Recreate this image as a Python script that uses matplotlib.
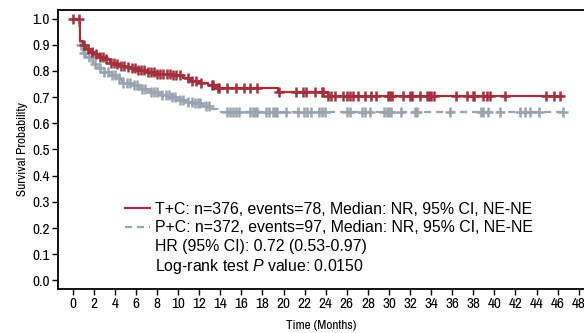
import matplotlib
matplotlib.use("Agg")
import matplotlib.pyplot as plt
from matplotlib.lines import Line2D
from matplotlib import font_manager as fm
import numpy as np

# ---------------- data ----------------
tc_times = [0.0, 0.7, 1.0, 1.3, 1.6, 2.0, 2.5, 3.0, 3.5, 4.0, 4.5, 5.0, 5.5, 6.0,
            7.0, 8.0, 9.5, 10.5, 11.2, 12.0, 12.8, 13.8, 19.5, 24.2]
tc_surv = [1.0, 0.915, 0.90, 0.885, 0.874, 0.865, 0.855, 0.845, 0.832, 0.825, 0.82,
           0.815, 0.81, 0.805, 0.798, 0.79, 0.785, 0.775, 0.763, 0.753, 0.745,
           0.734, 0.721, 0.706]
tc_end = 46.4
tc_censor = [0.0, 0.6, 1.1, 1.4, 1.8, 2.2, 2.6, 2.9, 3.2, 3.6, 3.9, 4.2, 4.6, 4.9,
             5.2, 5.6, 5.9, 6.2, 6.5, 6.8, 7.1, 7.4, 7.7, 8.0, 8.3, 8.6, 8.9, 9.2,
             9.5, 9.8, 10.15, 10.9, 11.3, 11.7, 12.2, 13.2, 13.3, 13.8, 13.9, 14.6,
             15.5, 16.2, 16.8, 17.5, 19.6, 21.2, 21.8, 22.1, 23.0, 23.6, 23.7,
             24.2, 24.5, 24.9, 25.6, 26.0, 26.3, 26.6, 27.1, 27.7, 28.3, 28.8,
             29.9, 30.1, 30.3, 31.3, 32.0, 32.2, 32.9, 33.6, 33.8, 34.0, 34.3,
             36.4, 37.4, 38.0, 38.1, 38.9, 39.3, 39.6, 41.0, 44.9, 45.7, 46.2]

pc_times = [0.0, 0.5, 0.7, 1.0, 1.3, 1.9, 2.4, 2.9, 3.5, 4.1, 4.7, 5.5, 6.4, 7.2,
            8.3, 9.2, 9.8, 10.8, 11.4, 12.4, 13.0, 13.8]
pc_surv = [1.0, 0.97, 0.90, 0.87, 0.855, 0.825, 0.81, 0.798, 0.785, 0.772, 0.755,
           0.745, 0.73, 0.72, 0.709, 0.70, 0.69, 0.683, 0.677, 0.665, 0.655, 0.643]
pc_end = 46.8
pc_censor = [0.8, 1.1, 1.5, 1.8, 2.1, 2.6, 3.0, 3.3, 3.7, 4.0, 4.4, 4.8, 5.1, 5.4,
             5.8, 6.1, 6.6, 6.9, 7.4, 7.7, 8.0, 8.5, 8.8, 9.1, 9.4, 9.7, 10.15,
             10.5, 10.9, 11.3, 11.6, 11.9, 12.1, 12.6, 12.9, 14.6, 14.9, 15.2,
             15.5, 15.8, 16.8, 17.1, 17.3, 17.5, 18.3, 18.6, 19.0, 19.2, 19.4,
             20.2, 21.4, 21.9, 22.2, 22.6, 23.4, 23.6, 23.9, 26.0, 26.3, 27.4,
             27.7, 28.2, 29.5, 29.8, 30.0, 30.2, 31.1, 32.5, 32.7, 35.8, 38.7,
             38.9, 39.4, 40.5, 42.4, 42.9, 43.4, 44.2, 46.5]

x_ticks = list(range(0, 49, 2))
y_ticks = [0.0, 0.1, 0.2, 0.3, 0.4, 0.5, 0.6, 0.7, 0.8, 0.9, 1.0]

tc_label = "T+C: n=376, events=78, Median: NR, 95% CI, NE-NE"
pc_label = "P+C: n=372, events=97, Median: NR, 95% CI, NE-NE"
hr_label = "HR (95% CI): 0.72 (0.53-0.97)"
p_label = "Log-rank test $P$ value: 0.0150"

RED = "#a3303a"
GREY = "#98a4b0"

# ---------------- fonts ----------------
names = {f.name for f in fm.fontManager.ttflist}
narrow = "Archivo Narrow" if "Archivo Narrow" in names else "Liberation Sans"
plt.rcParams["font.family"] = ["Liberation Sans", "DejaVu Sans"]
plt.rcParams["mathtext.fontset"] = "custom"
plt.rcParams["mathtext.it"] = "Liberation Sans:italic"
plt.rcParams["mathtext.rm"] = "Liberation Sans"

fig = plt.figure(figsize=(5.84, 3.33), dpi=100)
ax = fig.add_axes([58 / 584, 1 - 289 / 333, (584 - 58) / 584, (289 - 10) / 333])


def km_xy(times, surv, end):
    xs = list(times) + [end]
    ys = list(surv) + [surv[-1]]
    return xs, ys


def surv_at(times, surv, t):
    idx = np.searchsorted(np.asarray(times), t, side="right") - 1
    return np.asarray(surv)[np.clip(idx, 0, None)]


xs, ys = km_xy(pc_times, pc_surv, pc_end)
ax.step(xs, ys, where="post", color=GREY, lw=1.6, linestyle=(0, (3.2, 2.2)))
ax.plot(pc_censor, surv_at(pc_times, pc_surv, pc_censor), linestyle="none",
        marker="+", ms=7, mew=1.8, color=GREY)

xs, ys = km_xy(tc_times, tc_surv, tc_end)
ax.step(xs, ys, where="post", color=RED, lw=1.6)
ax.plot(tc_censor, surv_at(tc_times, tc_surv, tc_censor), linestyle="none",
        marker="+", ms=7, mew=1.8, color=RED)

ax.set_xlim(-1.4, 48.5)
ax.set_ylim(-0.033, 1.033)
ax.set_xticks(x_ticks)
ax.set_yticks(y_ticks)
ax.set_yticklabels([f"{v:.1f}" for v in y_ticks])
ax.tick_params(direction="out", length=4, width=1, labelsize=11, pad=2)
for lab in ax.get_xticklabels() + ax.get_yticklabels():
    lab.set_fontfamily(narrow)
ax.spines["right"].set_visible(False)
for s in ["left", "bottom", "top"]:
    ax.spines[s].set_linewidth(1.3)

ax.set_xlabel("Time (Months)", fontfamily=narrow, fontsize=9.5, labelpad=6)
ax.set_ylabel("Survival Probability", fontfamily=narrow, fontsize=9.5, labelpad=3)

handles = [
    Line2D([], [], color=RED, lw=1.6),
    Line2D([], [], color=GREY, lw=1.6, linestyle=(0, (3.2, 2.2))),
    Line2D([], [], color="none"),
    Line2D([], [], color="none"),
]
leg = ax.legend(handles, [tc_label, pc_label, hr_label, p_label],
                loc="upper left", bbox_to_anchor=(125 / 584, 1 - 202 / 333),
                bbox_transform=fig.transFigure, frameon=False, fontsize=11.4,
                handlelength=1.55, handletextpad=0.35, labelspacing=0.22,
                borderaxespad=0, borderpad=0)

fig.savefig("out.png", dpi=100)
